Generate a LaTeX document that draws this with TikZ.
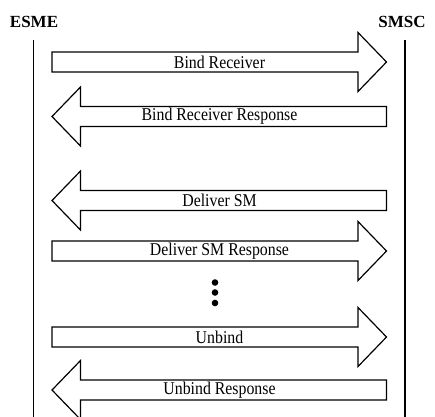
\documentclass[tikz,border=0pt]{standalone}
\usepackage{fontspec}
\setmainfont{Liberation Serif}
\newfontfamily\msgfont[FakeStretch=0.88]{Liberation Serif}
\begin{document}
\begin{tikzpicture}[x=1pt, y=-1pt,
  entity/.style={font=\fontsize{17}{17}\selectfont\bfseries, inner sep=0pt},
  lifeline/.style={line width=1.6pt},
  msgarrow/.style={draw=black, fill=white, line width=1.2pt, line join=miter},
  msglabel/.style={font=\msgfont\fontsize{18}{18}\selectfont, inner sep=0pt},
  dot/.style={circle, fill=black, inner sep=0pt, minimum size=6.6pt}]
\useasboundingbox (0,0) rectangle (435,416);

% participants and their lifelines
\node[entity] (esme) at (34,22) {ESME};
\node[entity] (smsc) at (402,22) {SMSC};
\coordinate (esmeTop) at (33.5,40);
\coordinate (esmeBot) at (33.5,420);
\coordinate (smscTop) at (405,40);
\coordinate (smscBot) at (405,420);
\draw[lifeline] (esmeTop) -- (esmeBot);
\draw[lifeline] (smscTop) -- (smscBot);

% block arrow pointing right: #1 = centre y, #2 = node name, #3 = text
\newcommand\toSMSC[3]{%
  \draw[msgarrow] (52,#1-10) -- (358,#1-10) -- (358,#1-29.5) -- (386.5,#1)
    -- (358,#1+29.5) -- (358,#1+10) -- (52,#1+10) -- cycle;
  \node[msglabel] (#2) at (219.5,#1) {#3};}
% block arrow pointing left
\newcommand\toESME[3]{%
  \draw[msgarrow] (386.5,#1-10) -- (80.5,#1-10) -- (80.5,#1-29.5) -- (52,#1)
    -- (80.5,#1+29.5) -- (80.5,#1+10) -- (386.5,#1+10) -- cycle;
  \node[msglabel] (#2) at (219.5,#1) {#3};}

\toSMSC{62}{bindrx}{Bind Receiver}
\toESME{116.5}{bindrxresp}{Bind Receiver Response}
\toESME{200.5}{deliver}{Deliver SM}
\toSMSC{251}{deliverresp}{Deliver SM Response}
\toSMSC{337}{unbind}{Unbind}
\toESME{390}{unbindresp}{Unbind Response}

% ellipsis between the exchanges
\node[dot] (d1) at (215,282.5) {};
\node[dot] (d2) at (215,292.5) {};
\node[dot] (d3) at (215,303) {};
\end{tikzpicture}
\end{document}
